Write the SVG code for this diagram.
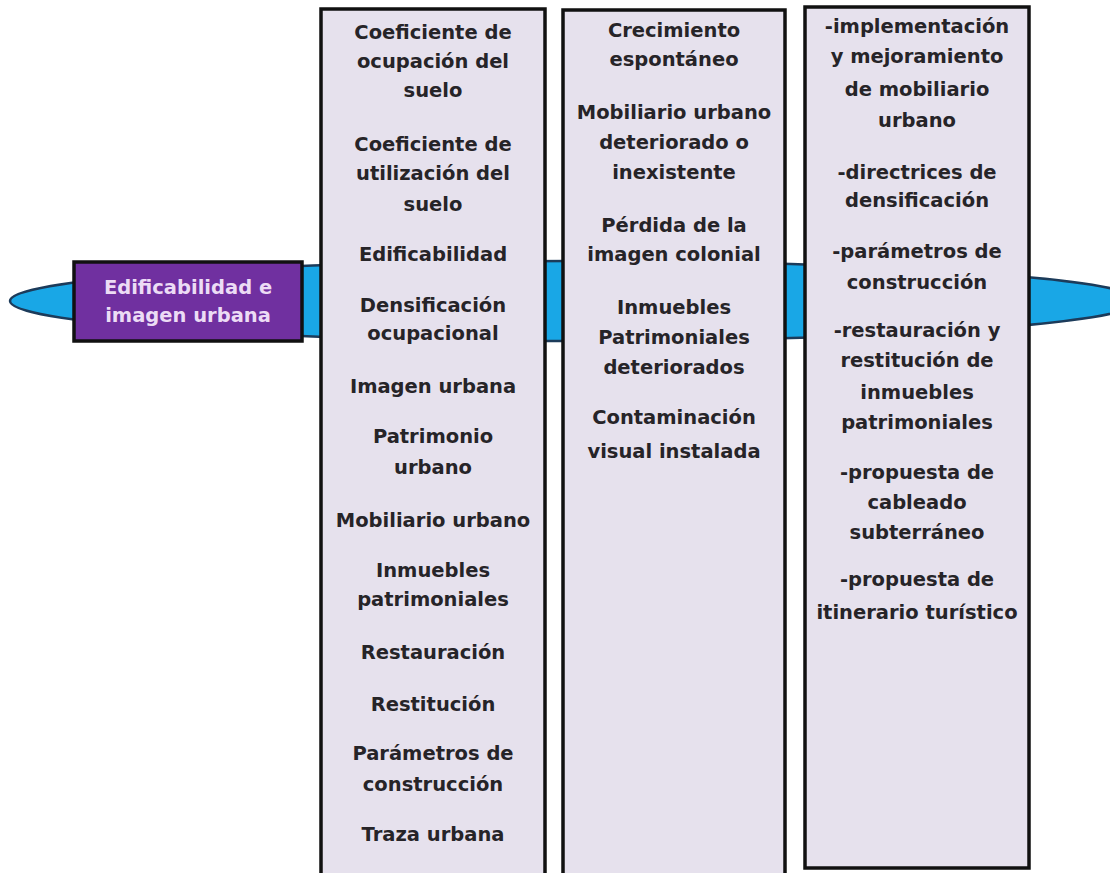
<svg xmlns="http://www.w3.org/2000/svg" width="1110" height="873" viewBox="0 0 1110 873">
<style>
.col{fill:#e6e1ed;stroke:#111;stroke-width:3.5}
.t{font-family:"DejaVu Sans","Liberation Sans",sans-serif;font-weight:bold;font-size:19.5px;fill:#262428;text-anchor:middle}
.tw{font-family:"DejaVu Sans","Liberation Sans",sans-serif;font-weight:bold;font-size:19.5px;fill:#ecdcf5;text-anchor:middle}
</style>
<rect width="1110" height="873" fill="#ffffff"/>
<g id="connectors">
<ellipse cx="575" cy="301" rx="565" ry="40" fill="#19a7e6" stroke="#1c3b5a" stroke-width="2.5"/>
</g>
<g id="topic">
<rect x="74" y="262" width="228" height="79" fill="#7030a0" stroke="#111" stroke-width="3.5"/>
<text class="tw" x="188" y="294">Edificabilidad e</text>
<text class="tw" x="188" y="322">imagen urbana</text>
</g>
<g id="col-conceptos">
<rect class="col" x="321" y="9" width="224" height="866"/>
<text class="t" x="433" y="39">Coeficiente de</text>
<text class="t" x="433" y="68">ocupación del</text>
<text class="t" x="433" y="97">suelo</text>
<text class="t" x="433" y="151">Coeficiente de</text>
<text class="t" x="433" y="180">utilización del</text>
<text class="t" x="433" y="211">suelo</text>
<text class="t" x="433" y="261">Edificabilidad</text>
<text class="t" x="433" y="312">Densificación</text>
<text class="t" x="433" y="340">ocupacional</text>
<text class="t" x="433" y="393">Imagen urbana</text>
<text class="t" x="433" y="443">Patrimonio</text>
<text class="t" x="433" y="474">urbano</text>
<text class="t" x="433" y="527">Mobiliario urbano</text>
<text class="t" x="433" y="577">Inmuebles</text>
<text class="t" x="433" y="606">patrimoniales</text>
<text class="t" x="433" y="659">Restauración</text>
<text class="t" x="433" y="711">Restitución</text>
<text class="t" x="433" y="760">Parámetros de</text>
<text class="t" x="433" y="791">construcción</text>
<text class="t" x="433" y="841">Traza urbana</text>
</g>
<g id="col-problemas">
<rect class="col" x="563" y="10" width="222" height="865"/>
<text class="t" x="674" y="37">Crecimiento</text>
<text class="t" x="674" y="66">espontáneo</text>
<text class="t" x="674" y="119">Mobiliario urbano</text>
<text class="t" x="674" y="149">deteriorado o</text>
<text class="t" x="674" y="179">inexistente</text>
<text class="t" x="674" y="232">Pérdida de la</text>
<text class="t" x="674" y="261">imagen colonial</text>
<text class="t" x="674" y="314">Inmuebles</text>
<text class="t" x="674" y="344">Patrimoniales</text>
<text class="t" x="674" y="374">deteriorados</text>
<text class="t" x="674" y="424">Contaminación</text>
<text class="t" x="674" y="458">visual instalada</text>
</g>
<g id="col-propuestas">
<rect class="col" x="805" y="7" width="224" height="861"/>
<text class="t" x="917" y="33">-implementación</text>
<text class="t" x="917" y="63">y mejoramiento</text>
<text class="t" x="917" y="96">de mobiliario</text>
<text class="t" x="917" y="127">urbano</text>
<text class="t" x="917" y="179">-directrices de</text>
<text class="t" x="917" y="207">densificación</text>
<text class="t" x="917" y="258">-parámetros de</text>
<text class="t" x="917" y="289">construcción</text>
<text class="t" x="917" y="337">-restauración y</text>
<text class="t" x="917" y="367">restitución de</text>
<text class="t" x="917" y="399">inmuebles</text>
<text class="t" x="917" y="429">patrimoniales</text>
<text class="t" x="917" y="479">-propuesta de</text>
<text class="t" x="917" y="509">cableado</text>
<text class="t" x="917" y="539">subterráneo</text>
<text class="t" x="917" y="586">-propuesta de</text>
<text class="t" x="917" y="619">itinerario turístico</text>
</g>
</svg>
